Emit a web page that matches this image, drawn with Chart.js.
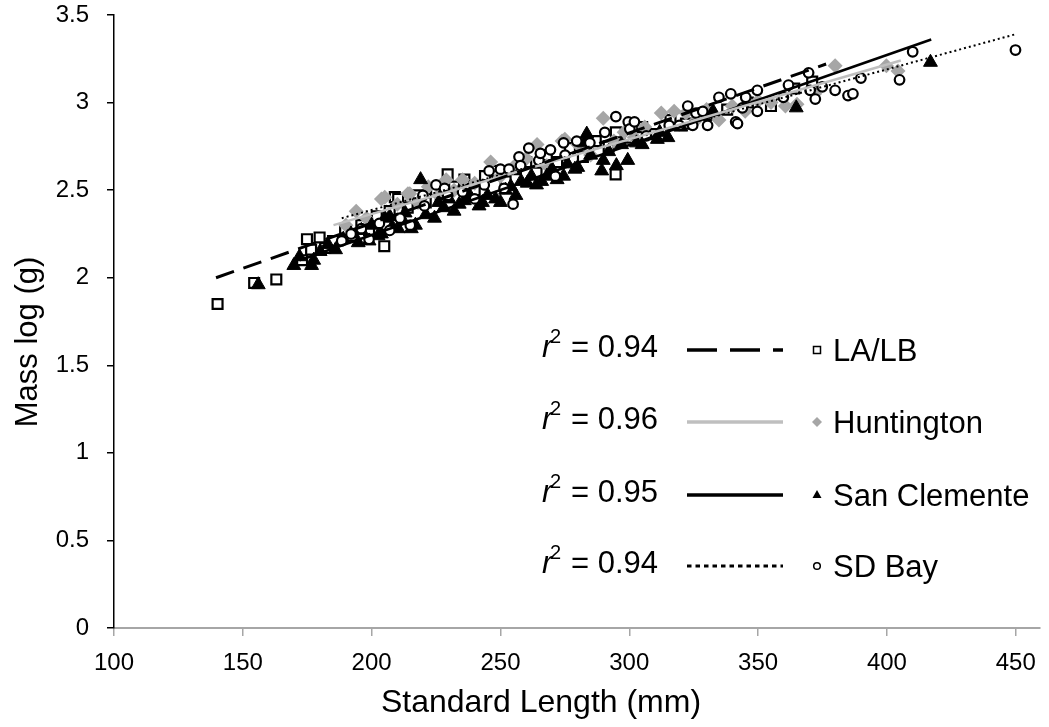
<!DOCTYPE html>
<html>
<head>
<meta charset="utf-8">
<script src="https://cdn.jsdelivr.net/npm/chart.js@4.4.1/dist/chart.umd.min.js"></script>
<style>
  body { margin: 0; background: #fff; }
  #wrap { width: 1049px; height: 727px; position: relative; }
</style>
</head>
<body>
<div id="wrap"><canvas id="myChart"></canvas></div>
<script>
// data : standard length (mm) and log mass (g), one pair of arrays per site
const laX = [140.2, 154.4, 163.0, 173.0, 174.9, 176.5, 179.8, 182.0, 185.0, 189.7,
  192.5, 196.0, 199.0, 202.0, 204.9, 207.0, 209.0, 210.3, 214.0, 218.0,
  221.0, 225.0, 229.5, 232.0, 236.0, 240.0, 244.0, 248.0, 252.0, 256.0,
  260.0, 264.0, 268.0, 272.0, 277.0, 282.0, 287.0, 292.0, 294.7, 294.8,
  300.0, 305.0, 310.0, 316.0, 322.0, 330.0, 338.0, 346.0, 355.0, 364.0, 371.0];
const laY = [1.85, 1.97, 1.99, 2.10, 2.22, 2.16, 2.23, 2.17, 2.21, 2.27,
  2.24, 2.30, 2.27, 2.35, 2.18, 2.38, 2.46, 2.45, 2.40, 2.47,
  2.43, 2.50, 2.59, 2.52, 2.56, 2.50, 2.58, 2.61, 2.55, 2.62,
  2.66, 2.60, 2.70, 2.66, 2.74, 2.69, 2.78, 2.75, 2.59, 2.83,
  2.80, 2.86, 2.82, 2.90, 2.88, 2.93, 2.96, 3.00, 2.98, 3.08, 3.12];

const huX = [190.0, 194.0, 198.0, 203.8, 205.1, 210.0, 214.1, 214.8, 218.0, 222.0,
  226.0, 228.9, 232.0, 235.3, 240.0, 246.2, 250.0, 255.0, 260.0, 264.2,
  268.0, 273.9, 275.0, 280.0, 285.0, 289.9, 294.0, 298.0, 302.0, 306.0,
  312.4, 317.4, 322.0, 326.0, 330.0, 334.8, 340.0, 345.0, 350.0, 355.0,
  360.6, 365.1, 372.0, 379.9, 399.8, 404.3];
const huY = [2.30, 2.38, 2.34, 2.45, 2.46, 2.42, 2.48, 2.48, 2.43, 2.52,
  2.47, 2.56, 2.50, 2.56, 2.54, 2.66, 2.58, 2.63, 2.68, 2.76,
  2.64, 2.78, 2.79, 2.76, 2.70, 2.91, 2.78, 2.83, 2.80, 2.86,
  2.94, 2.95, 2.94, 2.90, 2.96, 2.90, 2.98, 2.95, 3.01, 3.00,
  2.98, 2.99, 3.05, 3.21, 3.21, 3.18];

const scX = [156.0, 169.8, 172.0, 176.7, 177.5, 180.0, 183.0, 186.0, 189.0, 192.0,
  194.8, 196.0, 199.0, 200.0, 202.5, 203.8, 205.1, 207.0, 208.0, 210.3,
  212.0, 213.0, 215.4, 217.0, 219.0, 221.0, 224.4, 226.0, 228.0, 230.0,
  232.0, 234.0, 236.0, 238.0, 241.7, 243.0, 245.0, 248.1, 250.0, 252.0,
  254.0, 256.0, 258.0, 260.4, 262.0, 264.0, 266.0, 268.0, 270.0, 272.0,
  274.5, 276.0, 278.9, 280.0, 282.5, 283.5, 285.0, 289.3, 289.9, 292.0,
  295.0, 297.0, 299.4, 302.8, 305.0, 310.9, 311.8, 315.0, 320.0, 332.5,
  364.8, 416.9];
const scY = [1.96, 2.07, 2.12, 2.07, 2.10, 2.15, 2.19, 2.16, 2.22, 2.25,
  2.20, 2.27, 2.21, 2.30, 2.24, 2.25, 2.34, 2.35, 2.29, 2.28,
  2.33, 2.37, 2.28, 2.30, 2.56, 2.36, 2.34, 2.43, 2.40, 2.45,
  2.38, 2.42, 2.44, 2.47, 2.41, 2.43, 2.47, 2.45, 2.43, 2.50,
  2.52, 2.47, 2.55, 2.54, 2.58, 2.53, 2.55, 2.58, 2.62, 2.56,
  2.58, 2.65, 2.62, 2.63, 2.77, 2.82, 2.70, 2.61, 2.67, 2.72,
  2.64, 2.76, 2.67, 2.77, 2.76, 2.79, 2.83, 2.80, 2.86, 2.95,
  2.97, 3.23];

const sdX = [188.4, 192.0, 196.0, 199.0, 203.0, 207.0, 211.0, 215.0, 219.9, 220.5,
  225.0, 228.3, 229.5, 235.3, 240.0, 243.7, 245.6, 250.0, 251.4, 253.3,
  254.9, 257.2, 257.8, 261.0, 264.9, 265.5, 269.4, 271.3, 274.5, 275.1,
  279.6, 284.7, 290.5, 294.8, 299.6, 300.2, 302.0, 306.6, 315.5, 319.4,
  322.7, 324.6, 325.9, 328.5, 330.4, 334.8, 339.4, 341.3, 342.0, 343.9,
  345.2, 349.7, 349.7, 359.8, 361.8, 369.6, 370.2, 372.2, 374.9, 379.9,
  384.9, 386.8, 389.9, 404.9, 410.0, 449.9];
const sdY = [2.21, 2.25, 2.28, 2.22, 2.31, 2.27, 2.34, 2.30, 2.47, 2.41,
  2.53, 2.51, 2.47, 2.49, 2.45, 2.53, 2.61, 2.62, 2.51, 2.62,
  2.42, 2.69, 2.64, 2.74, 2.67, 2.71, 2.73, 2.58, 2.77, 2.70,
  2.78, 2.77, 2.83, 2.92, 2.89, 2.85, 2.89, 2.81, 2.87, 2.87,
  2.98, 2.87, 2.94, 2.95, 2.87, 3.03, 3.05, 2.89, 2.88, 2.97,
  3.03, 3.07, 2.95, 3.03, 3.10, 3.17, 3.07, 3.02, 3.09, 3.07,
  3.04, 3.05, 3.14, 3.13, 3.29, 3.30];

// trend lines (start / end)
const laLineX = [139.6, 376.4], laLineY = [2.00, 3.22];
const huLineX = [185.2, 405.4], huLineY = [2.30, 3.24];
const scLineX = [172.0, 417.2], scLineY = [2.10, 3.36];
const sdLineX = [188.4, 449.9], sdLineY = [2.34, 3.39];

const siteNames = ['LA/LB', 'Huntington', 'San Clemente', 'SD Bay'];
const r2Values = ['0.94', '0.96', '0.95', '0.94'];

const xTicks = [100, 150, 200, 250, 300, 350, 400, 450];

const FONT = "'Liberation Sans', Arial, sans-serif";
const GRAY = '#a6a6a6';

function pairs(xs, ys){
  return xs.map(function(x, i){ return {x: x, y: ys[i]}; });
}

//data
const data = {
  datasets: [
    // trend lines, on top
    { label: 'LA/LB fit', data: pairs(laLineX, laLineY), showLine: true, pointRadius: 0,
      borderColor: '#000', borderWidth: 3, borderDash: [19, 10], order: 0 },
    { label: 'Huntington fit', data: pairs(huLineX, huLineY), showLine: true, pointRadius: 0,
      borderColor: '#bfbfbf', borderWidth: 2.5, order: 0 },
    { label: 'San Clemente fit', data: pairs(scLineX, scLineY), showLine: true, pointRadius: 0,
      borderColor: '#000', borderWidth: 2.5, order: 0 },
    { label: 'SD Bay fit', data: pairs(sdLineX, sdLineY), showLine: true, pointRadius: 0,
      borderColor: '#000', borderWidth: 2, borderDash: [2, 3], order: 0 },
    // points
    { label: siteNames[3], data: pairs(sdX, sdY), pointStyle: 'circle', pointRadius: 4.8,
      borderWidth: 2.2, borderColor: '#000', backgroundColor: '#fff', order: 1 },
    { label: siteNames[2], data: pairs(scX, scY), pointStyle: 'triangle', pointRadius: 8,
      borderWidth: 1, borderColor: '#000', backgroundColor: '#000', order: 2 },
    { label: siteNames[1], data: pairs(huX, huY), pointStyle: 'rectRot', pointRadius: 7.5,
      borderWidth: 0, borderColor: GRAY, backgroundColor: GRAY, order: 3 },
    { label: siteNames[0], data: pairs(laX, laY), pointStyle: 'rect', pointRadius: 7,
      borderWidth: 2.2, borderColor: '#000', backgroundColor: '#fff', order: 4 }
  ]
};

// legend and axis titles drawn by hand
const legendRows = [350, 422, 495, 566];
const legendPlugin = {
  id: 'siteLegend',
  afterDraw(chart){
    const ctx = chart.ctx;
    ctx.save();
    ctx.textBaseline = 'alphabetic';
    ctx.fillStyle = '#000';

    // axis titles
    ctx.textAlign = 'center';
    ctx.font = '32px ' + FONT;
    ctx.fillText('Standard Length (mm)', 541, 712);
    ctx.save();
    ctx.translate(37, 342);
    ctx.rotate(-Math.PI / 2);
    ctx.font = '31px ' + FONT;
    ctx.fillText('Mass log (g)', 0, 0);
    ctx.restore();

    legendRows.forEach(function(y, i){
      // r^2 = ...
      ctx.fillStyle = '#000';
      ctx.textAlign = 'left';
      ctx.font = 'italic 31px ' + FONT;
      ctx.fillText('r', 542, y + 7);
      ctx.font = '20px ' + FONT;
      ctx.fillText('2', 550, y - 7);
      ctx.font = '31px ' + FONT;
      ctx.fillText('= ' + r2Values[i], 571, y + 7);

      // line sample
      ctx.beginPath();
      ctx.moveTo(687, y);
      ctx.lineTo(783, y);
      if (i === 0) { ctx.setLineDash([30, 13]); ctx.strokeStyle = '#000'; ctx.lineWidth = 3.3; }
      if (i === 1) { ctx.setLineDash([]); ctx.strokeStyle = '#bfbfbf'; ctx.lineWidth = 3.3; }
      if (i === 2) { ctx.setLineDash([]); ctx.strokeStyle = '#000'; ctx.lineWidth = 3.7; }
      if (i === 3) { ctx.setLineDash([4.5, 4]); ctx.strokeStyle = '#000'; ctx.lineWidth = 3; }
      ctx.stroke();
      ctx.setLineDash([]);

      // marker
      const mx = 817;
      ctx.lineWidth = 1.5;
      ctx.beginPath();
      if (i === 0) {
        ctx.rect(mx - 3.5, y - 3.5, 7, 7);
        ctx.fillStyle = '#fff'; ctx.fill(); ctx.strokeStyle = '#000'; ctx.stroke();
      } else if (i === 1) {
        ctx.moveTo(mx, y - 5); ctx.lineTo(mx + 5, y); ctx.lineTo(mx, y + 5); ctx.lineTo(mx - 5, y);
        ctx.closePath(); ctx.fillStyle = GRAY; ctx.fill();
      } else if (i === 2) {
        ctx.moveTo(mx, y - 5); ctx.lineTo(mx + 4.5, y + 3); ctx.lineTo(mx - 4.5, y + 3);
        ctx.closePath(); ctx.fillStyle = '#000'; ctx.fill();
      } else {
        ctx.arc(mx, y, 3.3, 0, Math.PI * 2);
        ctx.fillStyle = '#fff'; ctx.fill(); ctx.strokeStyle = '#000'; ctx.stroke();
      }

      // site name
      ctx.fillStyle = '#000';
      ctx.font = '31px ' + FONT;
      ctx.fillText(siteNames[i], 833, y + 11);
    });
    ctx.restore();
  }
};

//config
const config_scatter = {
  type: 'scatter',
  data,
  options: {
    responsive: true,
    maintainAspectRatio: false,
    animation: false,
    layout: { padding: { top: 15, right: 2, left: 0, bottom: 0 } },
    plugins: {
      legend: { display: false },
      tooltip: { enabled: false }
    },
    scales: {
      x: {
        type: 'linear',
        min: 100,
        max: 459.3,
        afterBuildTicks: function(axis){
          axis.ticks = xTicks.map(function(v){ return {value: v}; });
        },
        afterFit: function(scale){ scale.height = 99; },
        grid: { drawOnChartArea: false, drawTicks: true, tickLength: 8, color: GRAY, lineWidth: 1.5 },
        border: { color: GRAY, width: 2 },
        ticks: { color: '#000', font: { family: FONT, size: 24 }, padding: 13, maxRotation: 0 }
      },
      y: {
        min: 0,
        max: 3.5,
        afterFit: function(scale){
          scale.width = 114;
          // no extra room above the top label, the padding takes care of it
          scale.paddingTop = 0;
          scale.paddingBottom = 0;
        },
        grid: { drawOnChartArea: false, drawTicks: true, tickLength: 7, color: '#000', lineWidth: 1.5 },
        border: { color: '#000', width: 1.5 },
        ticks: { stepSize: 0.5, color: '#000', font: { family: FONT, size: 24 }, padding: 18,
          callback: function(v){ return String(v); } }
      }
    }
  },
  plugins: [legendPlugin]
};

//initialisation chart
const myChart = new Chart(
  document.getElementById('myChart'),
  config_scatter
);
</script>
</body>
</html>
